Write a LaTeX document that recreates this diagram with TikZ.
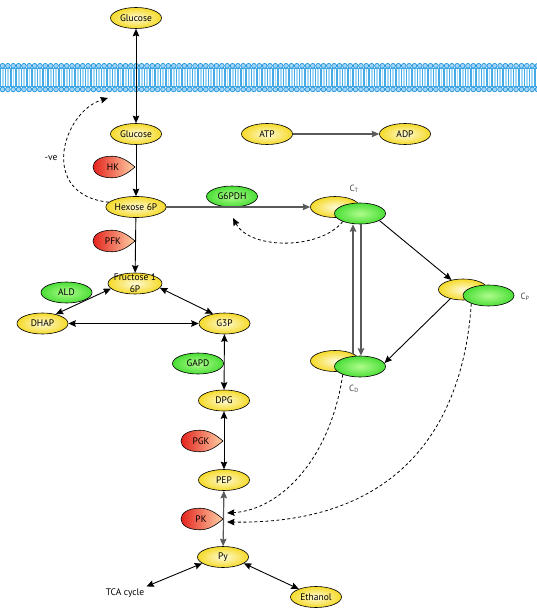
\documentclass[tikz,border=0pt]{standalone}
\usepackage{fontspec}
\setmainfont{PT Sans}
\usetikzlibrary{shapes.geometric,arrows.meta,calc}
\definecolor{yelIn}{RGB}{255,250,215}
\definecolor{yelOut}{RGB}{245,218,40}
\definecolor{grnIn}{RGB}{175,252,140}
\definecolor{grnOut}{RGB}{75,222,55}
\definecolor{dropL}{RGB}{228,35,30}
\definecolor{dropR}{RGB}{255,208,165}
\definecolor{memdark}{RGB}{70,170,230}
\definecolor{memlight}{RGB}{165,218,248}
\definecolor{headfill}{RGB}{160,212,248}
\definecolor{headdraw}{RGB}{35,150,220}
\definecolor{lineg}{RGB}{90,90,90}
\definecolor{labg}{RGB}{70,70,70}
\newcommand\enzdrop[4]{%
  \begin{scope}[shift={(#2,#3)}]
    \shade[left color=dropL,right color=dropR,draw=black,line width=0.6pt]
      (21,0) .. controls (15,-5) and (8,-10.8) .. (-2,-10.8)
      .. controls (-14,-10.8) and (-21,-6) .. (-21,0)
      .. controls (-21,6) and (-14,10.8) .. (-2,10.8)
      .. controls (8,10.8) and (15,5) .. (21,0) -- cycle;
  \end{scope}
  \node[txt] (#1) at (#2-1,#3) {#4};}
\begin{document}
\begin{tikzpicture}[x=1pt,y=-1pt,
  txt/.style={inner sep=1pt,font=\fontsize{9.5}{11}\selectfont},
  yel/.style={ellipse,draw=black,line width=0.6pt,inner color=yelIn,outer color=yelOut,
    minimum width=51pt,minimum height=21pt,inner sep=0pt,font=\fontsize{9.5}{11}\selectfont},
  grn/.style={ellipse,draw=black,line width=0.6pt,inner color=grnIn,outer color=grnOut,
    minimum width=51pt,minimum height=21pt,inner sep=0pt,font=\fontsize{9.5}{11}\selectfont},
  lab/.style={inner sep=0pt,text=labg,font=\fontsize{9}{10}\selectfont},
  arr/.style={draw=black,line width=0.9pt},
  garr/.style={draw=lineg,line width=1.2pt},
  dsh/.style={draw=black,line width=0.8pt,dash pattern=on 3pt off 2.5pt},
  >={Stealth[length=7.5pt,width=6.5pt,inset=1pt]}]
\useasboundingbox (0,0) rectangle (537,612);
\fill[white] (0,0) rectangle (537,612);
% membrane
\fill[memdark] (0,68) rectangle (537,87);
\foreach \i in {0,...,100}{
  \pgfmathsetmacro\xx{\i*5.35+2.5}
  \fill[memlight] (\xx-1.2,69) rectangle (\xx+1.2,86);
  \draw[white,line width=0.55pt] (\xx-1.4,69) -- (\xx-1.4,86) (\xx+1.4,69) -- (\xx+1.4,86);
  \filldraw[fill=headfill,draw=headdraw,line width=0.7pt] (\xx,65.8) circle (2.4);
  \filldraw[fill=headfill,draw=headdraw,line width=0.7pt] (\xx,89.4) circle (2.4);
}
% nodes
\node[yel] (gluc1) at (136,18) {Glucose};
\node[yel] (gluc2) at (136,134) {Glucose};
\node[yel] (hex) at (136,207) {Hexose 6P};
\node[yel] (atp) at (267,134) {ATP};
\node[yel] (adp) at (405,134) {ADP};
\node[grn] (g6pdh) at (232,196.5) {G6PDH};
\node[yel,minimum width=49pt] (ctY) at (335,207) {};
\node[grn] (ctG) at (360,213.5) {};
\node[yel,minimum width=49pt] (cpY) at (463,289.5) {};
\node[grn] (cpG) at (488.5,295.5) {};
\node[yel,minimum width=49pt] (cdY) at (335,361) {};
\node[grn] (cdG) at (360,366.5) {};
\node[lab] (ctl) at (354,189) {C\textsubscript{T}};
\node[lab] (cpl) at (525,297) {C\textsubscript{P}};
\node[lab] (cdl) at (354,389) {C\textsubscript{D}};
\node[yel,minimum width=54pt] (fru) at (135,283.5) {};
\node[align=center,font=\fontsize{9.5}{12}\selectfont,inner sep=0pt] (frut) at (135,283) {Fructose 1\\6P};
\node[grn] (ald) at (66.5,292.5) {ALD};
\node[yel] (dhap) at (42.5,323.5) {DHAP};
\node[yel] (g3p) at (224.5,323.5) {G3P};
\node[grn] (gapd) at (198,363.5) {GAPD};
\node[yel] (dpg) at (224,400.5) {DPG};
\node[yel] (pep) at (224,480) {PEP};
\node[yel] (py) at (223,557) {Py};
\node[txt,inner sep=2pt] (tca) at (125,593) {TCA cycle};
\node[yel] (eth) at (316,597) {Ethanol};
\node[txt] (ve) at (51,158) {-ve};
\enzdrop{hk}{114}{167}{HK}
\enzdrop{pfk}{114}{241}{PFK}
\enzdrop{pgk}{202}{441}{PGK}
\enzdrop{pk}{202}{519}{PK}
% coordinates for free ends
\coordinate (memarr) at (108,98);
\coordinate (g6arr) at (233,218);
\coordinate (pk1) at (227,513);
\coordinate (pk2) at (227,522);
\coordinate (cdtop) at (353,354);
% connectors
\draw[arr,<->] (gluc1) -- (gluc2);
\draw[arr,->] (gluc2) -- (hex);
\draw[arr,->] (hex) -- (fru);
\draw[garr,->] (hex) -- (ctY);
\draw[garr,->] (atp) -- (adp);
\draw[arr,<->] (fru.192) -- (dhap.35);
\draw[arr,<->] (fru.-10) -- (g3p.140);
\draw[arr,<->] (dhap) -- (g3p);
\draw[arr,<->] (g3p) -- (dpg);
\draw[arr,<->] (dpg) -- (pep);
\draw[garr,<->] (pep) -- (py);
\draw[arr,<->] (py.197) -- (tca.north east);
\draw[arr,<->] (py.-17) -- (eth.155);
\draw[arr,->] (ctG.-20) -- (cpY);
\draw[arr,->] (cpY.216) -- (cdG.8);
\draw[garr,->] (cdtop) -- ([xshift=-7pt]ctG.south);
\draw[garr,->] ([xshift=1pt]ctG.south) -- ([xshift=1pt]cdG.north);
\draw[dsh,->] (hex.170) .. controls (38,195) and (62,112) .. (memarr);
\draw[dsh,->] (ctG.205) .. controls (320,250) and (250,250) .. (g6arr);
\draw[dsh,->] (cdG.205) .. controls (330,460) and (280,510) .. (pk1);
\draw[dsh,->] (cpG.205) .. controls (465,400) and (420,525) .. (pk2);
\end{tikzpicture}
\end{document}
